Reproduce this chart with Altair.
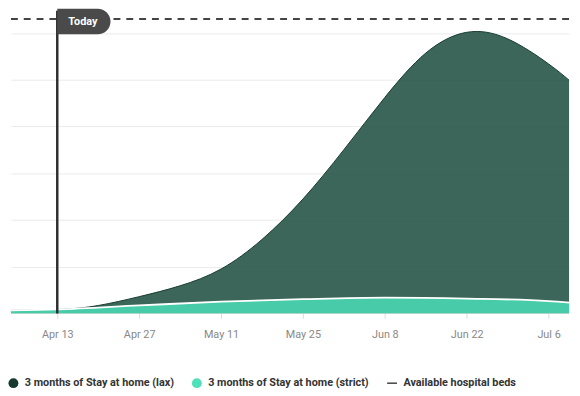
import altair as alt
import pandas as pd

# ---- data ----
lax_dates = ["2020-04-03", "2020-04-13", "2020-04-20", "2020-04-27", "2020-05-04",
             "2020-05-11", "2020-05-18", "2020-05-25", "2020-06-01", "2020-06-08",
             "2020-06-15", "2020-06-22", "2020-06-29", "2020-07-06", "2020-07-10"]
lax_values = [127, 169, 338, 717, 1182, 1899, 3165, 4895, 7005, 9242,
              11141, 12030, 11750, 10677, 9875]

strict_dates = ["2020-04-03", "2020-04-13", "2020-04-27", "2020-05-11", "2020-05-25",
                "2020-06-08", "2020-06-22", "2020-07-06", "2020-07-10"]
strict_values = [125, 170, 340, 505, 610, 675, 635, 530, 460]

hospital_beds = 12600
today = "2020-04-13"

series_names = ["3 months of Stay at home (lax)",
                "3 months of Stay at home (strict)",
                "Available hospital beds"]
legend_colors = ["#163a2e", "#4ee0b8", "#333333"]
legend_shapes = ["circle", "circle", "M-1,-0.14L1,-0.14L1,0.14L-1,0.14Z"]

tick_dates = ["2020-04-13", "2020-04-27", "2020-05-11", "2020-05-25",
              "2020-06-08", "2020-06-22", "2020-07-06"]
grid_values = [2000, 4000, 6000, 8000, 10000, 12000]

# ---- tables ----
lax_df = pd.DataFrame({"date": lax_dates, "value": lax_values})
strict_df = pd.DataFrame({"date": strict_dates, "value": strict_values})
beds_df = pd.DataFrame({"beds": [hospital_beds]})
today_df = pd.DataFrame({"date": [today], "label": ["Today"]})
legend_df = pd.DataFrame({"series": series_names, "date": [today] * 3, "value": [0] * 3})

FONT = "Roboto"


def dt(s, hours=0):
    y, m, d = (int(p) for p in s.split("-"))
    return alt.DateTime(year=y, month=m, date=d, hours=hours, utc=True)


x_scale = alt.Scale(type="utc", domain=[dt("2020-04-05", 2), dt("2020-07-09", 12)])
y_scale = alt.Scale(domain=[0, 12955], nice=False, zero=True)

x_axis = alt.Axis(values=[dt(d) for d in tick_dates], format="%b %-d", title=None,
                  grid=False, domain=False, tickColor="#d5dbe8", tickSize=5,
                  labelColor="#888888", labelFontSize=11, labelFont=FONT,
                  labelPadding=10)
y_axis = alt.Axis(values=grid_values, title=None, labels=False, ticks=False,
                  domain=False, grid=True, gridColor="#ebebeb", gridWidth=1)

X = alt.X("date:T", scale=x_scale, axis=x_axis)
Y = alt.Y("value:Q", scale=y_scale, axis=y_axis)

lax_area = alt.Chart(lax_df).mark_area(
    interpolate="natural", color="#1f4f40", opacity=0.87, clip=True,
    line={"color": "#173b30", "strokeWidth": 1}
).encode(x=X, y=Y)

strict_area = alt.Chart(strict_df).mark_area(
    interpolate="monotone", color="#47cba9", opacity=1, clip=True,
    line={"color": "white", "strokeWidth": 1.8}
).encode(x=alt.X("date:T", scale=x_scale), y=alt.Y("value:Q", scale=y_scale))

beds_rule = alt.Chart(beds_df).mark_rule(
    color="#444444", strokeWidth=2, strokeDash=[7, 6]
).encode(y=alt.Y("beds:Q", scale=y_scale))

today_rule = alt.Chart(today_df).mark_rule(
    color="#2f2f2f", strokeWidth=2.5
).encode(x=alt.X("date:T", scale=x_scale))

today_box = alt.Chart(today_df).mark_rect(
    color="#4a4a4a", cornerRadiusTopRight=13, cornerRadiusBottomRight=13,
    x2Offset=54
).encode(x=alt.X("date:T", scale=x_scale), x2="date:T",
         y=alt.value(-2), y2=alt.value(24))

today_text = alt.Chart(today_df).mark_text(
    color="white", fontWeight="bold", fontSize=11, font=FONT, dx=26, dy=0,
    align="center", baseline="middle"
).encode(x=alt.X("date:T", scale=x_scale), y=alt.value(11), text="label:N")

legend_props = dict(title=None, orient="none", legendX=-3, legendY=372,
                    direction="horizontal", symbolSize=100,
                    labelFontSize=11, labelFont=FONT, labelLimit=400,
                    labelFontWeight="bold", labelColor="#333333",
                    columnPadding=17, labelOffset=6, padding=0,
                    symbolStrokeWidth=0)

legend_layer = alt.Chart(legend_df).transform_filter("false").mark_point(
    filled=True, opacity=1, size=100
).encode(
    x=alt.X("date:T", scale=x_scale),
    y=alt.Y("value:Q", scale=y_scale),
    color=alt.Color("series:N",
                    scale=alt.Scale(domain=series_names, range=legend_colors),
                    legend=alt.Legend(**legend_props)),
    shape=alt.Shape("series:N",
                    scale=alt.Scale(domain=series_names, range=legend_shapes),
                    legend=alt.Legend(**legend_props)),
)

chart = alt.layer(
    lax_area, strict_area, today_rule, beds_rule, today_box, today_text, legend_layer
).properties(
    width=566, height=307,
    autosize=alt.AutoSizeParams(type="none"),
    padding={"left": 3, "top": 0, "right": 3, "bottom": 80},
).configure_view(stroke=None)

chart.save("out.html", embed_options={"renderer": "svg", "actions": False})
